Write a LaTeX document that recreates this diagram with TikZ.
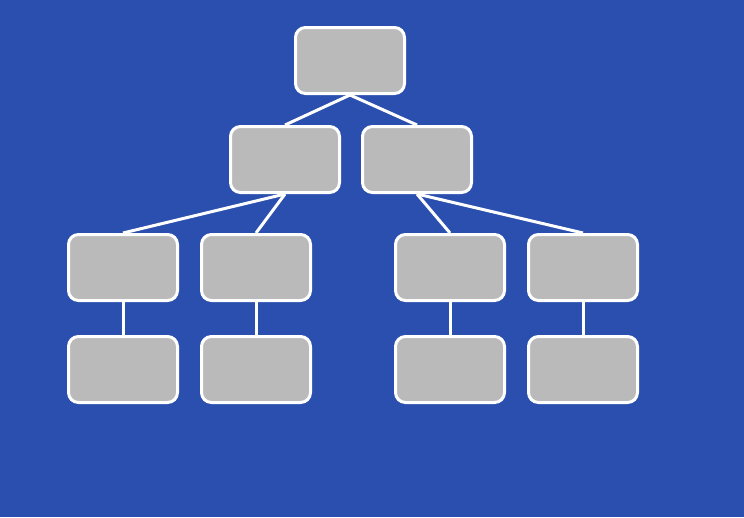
\documentclass[tikz,border=0pt]{standalone}
\definecolor{bg}{HTML}{2B4FAF}
\definecolor{boxgray}{HTML}{BABABA}
\begin{document}
\begin{tikzpicture}[x=1pt,y=-1pt,
  treebox/.style={draw=white,fill=boxgray,line width=3pt,rounded corners=10pt,minimum width=109pt,minimum height=66pt,inner sep=0pt},
  link/.style={draw=white,line width=3pt}]
\fill[bg] (0,0) rectangle (744,517);
\useasboundingbox (0,0) rectangle (744,517);
\node[treebox] (r) at (350,60.5) {};
\node[treebox] (a) at (285,159.5) {};
\node[treebox] (b) at (417,159.5) {};
\node[treebox] (a1) at (123,267.5) {};
\node[treebox] (a2) at (256,267.5) {};
\node[treebox] (b1) at (450,267.5) {};
\node[treebox] (b2) at (583,267.5) {};
\node[treebox] (a1c) at (123,369.5) {};
\node[treebox] (a2c) at (256,369.5) {};
\node[treebox] (b1c) at (450,369.5) {};
\node[treebox] (b2c) at (583,369.5) {};
\draw[link] (r.south) -- (a.north);
\draw[link] (r.south) -- (b.north);
\draw[link] (a.south) -- (a1.north);
\draw[link] (a.south) -- (a2.north);
\draw[link] (b.south) -- (b1.north);
\draw[link] (b.south) -- (b2.north);
\draw[link] (a1.south) -- (a1c.north);
\draw[link] (a2.south) -- (a2c.north);
\draw[link] (b1.south) -- (b1c.north);
\draw[link] (b2.south) -- (b2c.north);
\end{tikzpicture}
\end{document}
